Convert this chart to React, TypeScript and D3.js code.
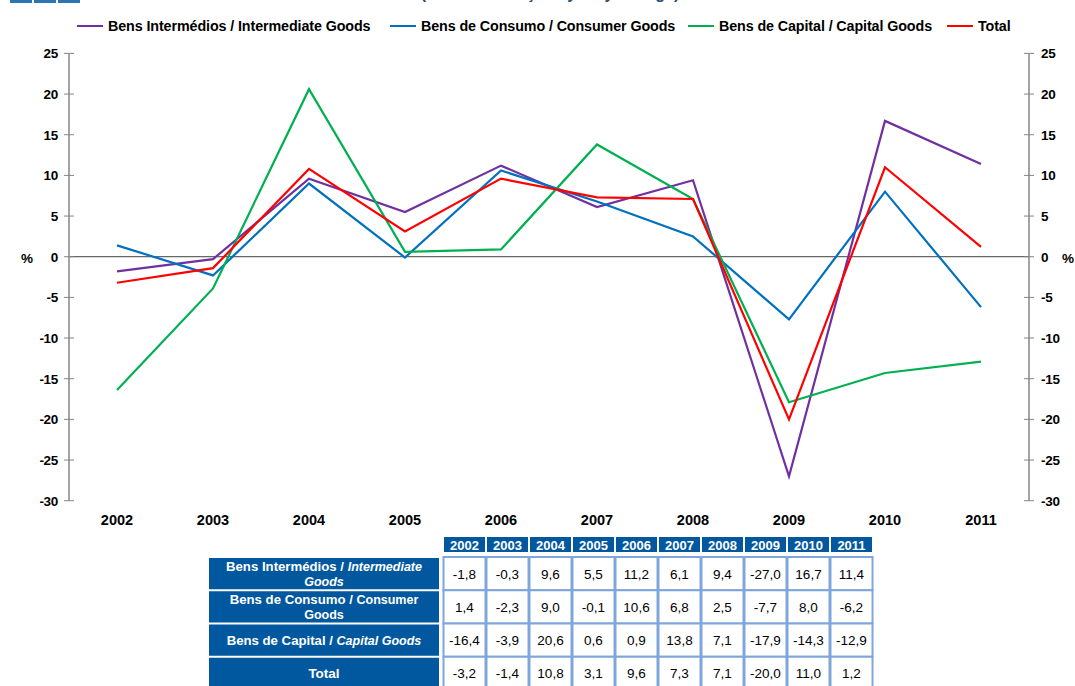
import React from "react";
import * as d3 from "d3";

const years = ["2002", "2003", "2004", "2005", "2006", "2007", "2008", "2009", "2010", "2011"];
const intermediate = [-1.8, -0.3, 9.6, 5.5, 11.2, 6.1, 9.4, -27.0, 16.7, 11.4];
const consumer = [1.4, -2.3, 9.0, -0.1, 10.6, 6.8, 2.5, -7.7, 8.0, -6.2];
const capital = [-16.4, -3.9, 20.6, 0.6, 0.9, 13.8, 7.1, -17.9, -14.3, -12.9];
const total = [-3.2, -1.4, 10.8, 3.1, 9.6, 7.3, 7.1, -20.0, 11.0, 1.2];
const yTicks = [25, 20, 15, 10, 5, 0, -5, -10, -15, -20, -25, -30];

const series = [
  { key: "int", name: "Bens Intermédios / Intermediate Goods", values: intermediate, color: "#7030a0" },
  { key: "con", name: "Bens de Consumo / Consumer Goods", values: consumer, color: "#0070c0" },
  { key: "cap", name: "Bens de Capital / Capital Goods", values: capital, color: "#00b050" },
  { key: "tot", name: "Total", values: total, color: "#ff0000" },
];

const W = 1075;
const H = 686;
const FONT = "'Liberation Sans', Arial, sans-serif";
const fmt = (v: number) => v.toFixed(1).replace(".", ",");

export default function App() {
  const x = d3.scalePoint(years, [69, 1029]).padding(0.5);
  const y = d3.scaleLinear([-30, 25], [500.7, 53.4]);
  const line = d3
    .line<number>()
    .x((_, i) => x(years[i]) as number)
    .y((d) => y(d));

  // table scales
  const col = d3.scaleBand(years, [443, 873]);
  const row = d3.scaleBand(series.map((s) => s.key), [557, 690]);

  const legendX = [77, 390, 688, 947];
  const axisColor = "#868686";

  const rowLabel = (key: string) => {
    const cx = 324;
    const top = row(key) as number;
    const h = row.bandwidth();
    const mid = top + h / 2;
    if (key === "int")
      return (
        <text x={cx} textAnchor="middle" fill="#fff" fontSize={13.2} fontWeight="bold">
          <tspan x={cx} y={mid - 3}>
            Bens Intermédios / <tspan fontStyle="italic" fontSize={12.5}>Intermediate</tspan>
          </tspan>
          <tspan x={cx} y={mid + 12} fontStyle="italic" fontSize={12.5}>Goods</tspan>
        </text>
      );
    if (key === "con")
      return (
        <text x={cx} textAnchor="middle" fill="#fff" fontSize={13.2} fontWeight="bold">
          <tspan x={cx} y={mid - 3}>
            Bens de Consumo / <tspan fontSize={12.5}>Consumer</tspan>
          </tspan>
          <tspan x={cx} y={mid + 12} fontSize={12.5}>Goods</tspan>
        </text>
      );
    if (key === "cap")
      return (
        <text x={cx} y={mid + 5} textAnchor="middle" fill="#fff" fontSize={13.2} fontWeight="bold">
          Bens de Capital / <tspan fontStyle="italic" fontSize={12.5}>Capital Goods</tspan>
        </text>
      );
    return (
      <text x={cx} y={mid + 5} textAnchor="middle" fill="#fff" fontSize={13.5} fontWeight="bold">
        Total
      </text>
    );
  };

  return (
    <svg
      width={W}
      height={H}
      style={{ position: "absolute", left: 0, top: 0, background: "#fff" }}
      fontFamily={FONT}
    >
      {/* cropped header remnants */}
      <g fill="#2e75b6">
        <rect x={10} y={-4} width={22} height={7} />
        <rect x={34} y={-4} width={22} height={7} />
        <rect x={58} y={-4} width={22} height={7} />
      </g>
      <text x={550} y={-1} textAnchor="middle" fontSize={16} fontWeight="bold" fill="#1f497d">
        (Taxa de variação / yearly change)
      </text>

      {/* legend */}
      {series.map((s, i) => (
        <g key={s.key} transform={`translate(${legendX[i]},26)`}>
          <line x1={0} x2={26} y1={0} y2={0} stroke={s.color} strokeWidth={2} />
          <text x={31} y={5} fontSize={14.3} fontWeight="bold" letterSpacing={-0.1} fill="#000">
            {s.name}
          </text>
        </g>
      ))}

      {/* zero line */}
      <line x1={69} x2={1029} y1={y(0)} y2={y(0)} stroke="#404040" strokeWidth={1} />

      {/* left axis */}
      <line x1={69} x2={69} y1={y(25)} y2={y(-30)} stroke={axisColor} strokeWidth={1.5} />
      {yTicks.map((t) => (
        <g key={"l" + t}>
          <line x1={64} x2={74} y1={y(t)} y2={y(t)} stroke={axisColor} strokeWidth={1} />
          <text x={58} y={y(t) + 5} textAnchor="end" fontSize={13.5} fontWeight="bold" letterSpacing={-0.3}>
            {t}
          </text>
        </g>
      ))}
      <text x={27} y={y(0) + 6} textAnchor="middle" fontSize={13.5} fontWeight="bold">%</text>

      {/* right axis */}
      <line x1={1029} x2={1029} y1={y(25)} y2={y(-30)} stroke={axisColor} strokeWidth={1.5} />
      {yTicks.map((t) => (
        <g key={"r" + t}>
          <line x1={1024} x2={1034} y1={y(t)} y2={y(t)} stroke={axisColor} strokeWidth={1} />
          <text x={1041} y={y(t) + 5} textAnchor="start" fontSize={13.5} fontWeight="bold" letterSpacing={-0.3}>
            {t}
          </text>
        </g>
      ))}
      <text x={1068} y={y(0) + 6} textAnchor="middle" fontSize={13.5} fontWeight="bold">%</text>

      {/* x labels */}
      {years.map((yr) => (
        <text key={yr} x={x(yr)} y={525} textAnchor="middle" fontSize={14.5} fontWeight="bold">
          {yr}
        </text>
      ))}

      {/* series lines */}
      {series.map((s) => (
        <path key={s.key} d={line(s.values) || ""} fill="none" stroke={s.color} strokeWidth={2.2} />
      ))}

      {/* table header */}
      {years.map((yr) => (
        <g key={"h" + yr}>
          <rect x={(col(yr) as number) + 1} y={537} width={col.bandwidth() - 2} height={15} fill="#02589e" />
          <text
            x={(col(yr) as number) + col.bandwidth() / 2}
            y={549.5}
            textAnchor="middle"
            fontSize={13}
            fontWeight="bold"
            fill="#fff"
          >
            {yr}
          </text>
        </g>
      ))}

      {/* table body */}
      {series.map((s) => {
        const top = row(s.key) as number;
        const h = row.bandwidth();
        return (
          <g key={"r" + s.key}>
            <rect x={209} y={top + 1} width={230} height={h - 2} fill="#02589e" />
            {rowLabel(s.key)}
            {s.values.map((v, i) => {
              const cx = col(years[i]) as number;
              return (
                <g key={i}>
                  <rect
                    x={cx + 0.5}
                    y={top}
                    width={col.bandwidth() - 1}
                    height={h}
                    fill="#fff"
                    stroke="#7ea6dc"
                    strokeWidth={2}
                  />
                  <text x={cx + col.bandwidth() / 2} y={top + h / 2 + 5} textAnchor="middle" fontSize={13.5} fill="#000">
                    {fmt(v)}
                  </text>
                </g>
              );
            })}
          </g>
        );
      })}
    </svg>
  );
}
